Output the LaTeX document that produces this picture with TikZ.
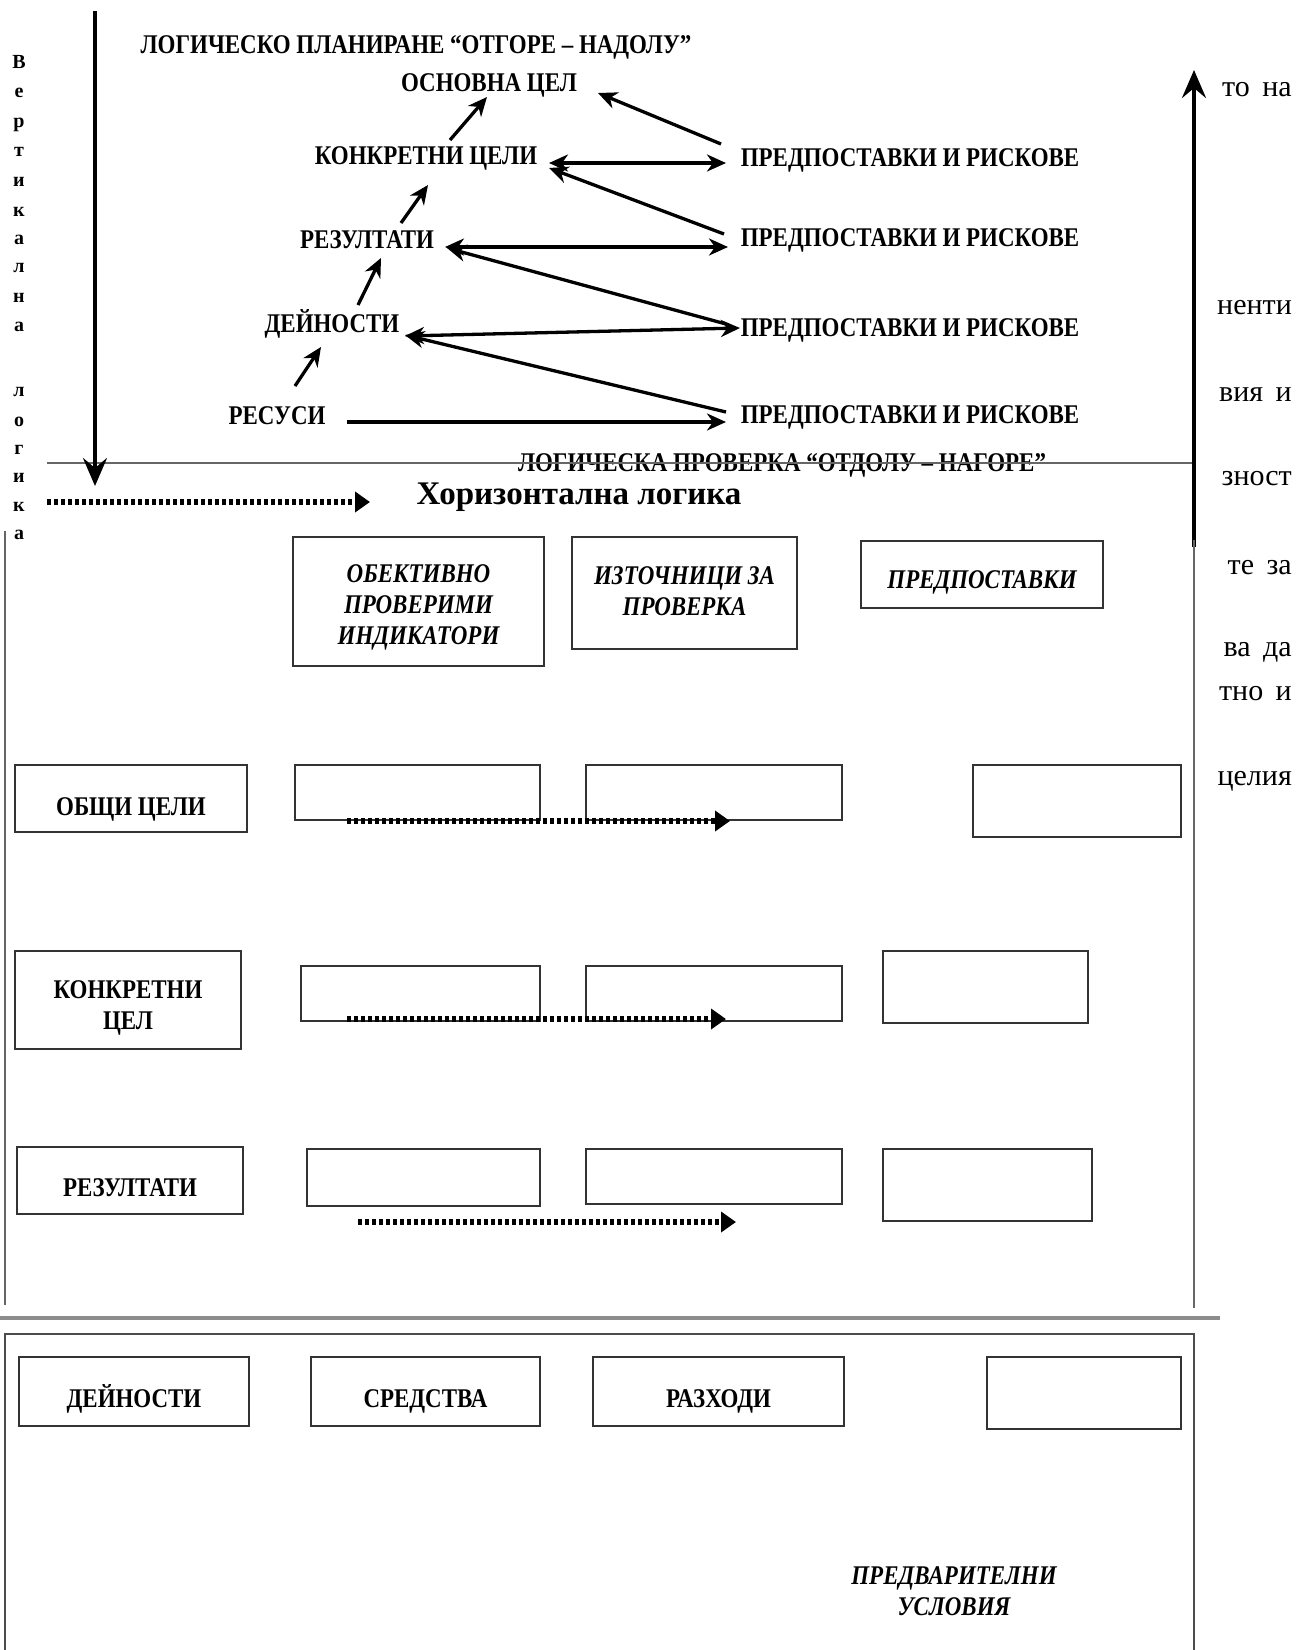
\documentclass[tikz,border=0pt]{standalone}
\usepackage{fontspec}
\setmainfont{Liberation Serif}
\newfontfamily\cond[FakeStretch=0.85]{Liberation Serif}
\usetikzlibrary{arrows.meta}
\begin{document}
\begin{tikzpicture}[x=1pt,y=-1pt,
  lbl/.style={font=\cond\bfseries\fontsize{27}{30}\selectfont, inner sep=0pt},
  ilbl/.style={font=\cond\bfseries\itshape\fontsize{27}{31}\selectfont, inner sep=0pt, align=center},
  blbl/.style={font=\cond\bfseries\fontsize{27}{31}\selectfont, align=center},
  slbl/.style={font=\cond\bfseries\fontsize{27}{31}\selectfont, inner sep=0pt, text height=18pt, text depth=0pt},
  vlet/.style={font=\bfseries\fontsize{20}{20}\selectfont, inner sep=0pt},
  frag/.style={font=\fontsize{30}{30}\selectfont, inner sep=0pt, anchor=east},
  cell/.style={draw=black!80, line width=1.8pt, inner sep=0pt, align=center},
  arr/.style={line width=3.3pt, -{Stealth[length=19pt,width=17pt,inset=6pt]}},
  darr/.style={line width=3.3pt, {Stealth[length=19pt,width=17pt,inset=6pt]}-{Stealth[length=19pt,width=17pt,inset=6pt]}},
  bigarr/.style={line width=4pt, -{Stealth[length=28pt,width=24pt,inset=10pt]}},
  dotarr/.style={line width=6pt, dash pattern=on 3.5pt off 3.5pt, -{Triangle[length=15pt,width=20pt]}},
  gline/.style={draw=black!60, line width=1.8pt}]
\useasboundingbox (0,0) rectangle (1311,1650);

% ---------- vertical logic letters ----------
\foreach \ch/\yy [count=\i] in {В/62,е/93,р/125,т/152,и/182,к/212,а/240,л/268,н/298,а/327,л/392,о/422,г/450,и/478,к/507,а/535}
  \node[vlet] (v\i) at (19,\yy) {\ch};

% ---------- top section labels ----------
\node[lbl] (title) at (416,47) {ЛОГИЧЕСКО ПЛАНИРАНЕ “ОТГОРЕ – НАДОЛУ”};
\node[lbl] (osn) at (489,85) {ОСНОВНА ЦЕЛ};
\node[lbl] (kc) at (426,158) {КОНКРЕТНИ ЦЕЛИ};
\node[lbl] (rez) at (367,240) {РЕЗУЛТАТИ};
\node[lbl] (dei) at (332,324) {ДЕЙНОСТИ};
\node[lbl] (res) at (277,416) {РЕСУСИ};
\node[lbl] (p1) at (910,160) {ПРЕДПОСТАВКИ И РИСКОВЕ};
\node[lbl] (p2) at (910,240) {ПРЕДПОСТАВКИ И РИСКОВЕ};
\node[lbl] (p3) at (910,330) {ПРЕДПОСТАВКИ И РИСКОВЕ};
\node[lbl] (p4) at (910,417) {ПРЕДПОСТАВКИ И РИСКОВЕ};

% arrow end points
\coordinate (kcU) at (450,140); \coordinate (osnD) at (487,97);
\coordinate (rezU) at (401,223); \coordinate (kcD) at (428,185);
\coordinate (deiU) at (358,305); \coordinate (rezD) at (381,258);
\coordinate (resU) at (295,386); \coordinate (deiD) at (321,347);
\coordinate (p1L) at (721,144); \coordinate (osnR) at (598,93);
\coordinate (kcR) at (549,163); \coordinate (p1W) at (726,163);
\coordinate (p2L) at (724,234); \coordinate (kcR2) at (549,168);
\coordinate (rezR) at (445,247); \coordinate (p2W) at (728,247);
\coordinate (p3L) at (726,324); \coordinate (rezR2) at (447,248);
\coordinate (deiR) at (405,336); \coordinate (p3W) at (740,328);
\coordinate (p4L) at (726,412); \coordinate (deiR2) at (405,335);
\coordinate (resR) at (347,422); \coordinate (p4W) at (726,422);

\draw[arr] (kcU) -- (osnD);
\draw[arr] (rezU) -- (kcD);
\draw[arr] (deiU) -- (rezD);
\draw[arr] (resU) -- (deiD);
\draw[arr] (p1L) -- (osnR);
\draw[darr] (kcR) -- (p1W);
\draw[arr] (p2L) -- (kcR2);
\draw[darr] (rezR) -- (p2W);
\draw[arr] (p3L) -- (rezR2);
\draw[darr] (deiR) -- (p3W);
\draw[arr] (p4L) -- (deiR2);
\draw[arr] (resR) -- (p4W);

% ---------- big vertical arrows and dividing line ----------
\node[lbl] (check) at (782,465) {ЛОГИЧЕСКА ПРОВЕРКА “ОТДОЛУ – НАГОРЕ”};
\coordinate (hL) at (47,463); \coordinate (hR) at (1194,463);
\draw[gline] (hL) -- (hR);
\coordinate (vaTop) at (95,11); \coordinate (vaBot) at (95,486);
\draw[bigarr] (vaTop) -- (vaBot);
\coordinate (raBot) at (1194,547); \coordinate (raTop) at (1194,70);
\draw[bigarr] (raBot) -- (raTop);

% horizontal logic
\coordinate (hdS) at (47,502); \coordinate (hdE) at (370,502);
\draw[dotarr] (hdS) -- (hdE);
\node[font=\bfseries\fontsize{33}{36}\selectfont, inner sep=0pt] (hor) at (579,497) {Хоризонтална логика};

% ---------- right text fragments ----------
\node[frag] (f1) at (1292,90) {то\,  на};
\node[frag] (f2) at (1292,308) {ненти};
\node[frag] (f3) at (1292,395) {вия\, и};
\node[frag] (f4) at (1292,479) {зност};
\node[frag] (f5) at (1292,568) {те\,  за};
\node[frag] (f6) at (1292,652) {ва\, да};
\node[frag] (f7) at (1292,694) {тно\, и};
\node[frag] (f8) at (1292,781) {целия};

% ---------- frame lines ----------
\coordinate (lvT) at (5,531); \coordinate (lvB) at (5,1305);
\draw[gline, line width=1.5pt] (lvT) -- (lvB);
\coordinate (rvT) at (1194,540); \coordinate (rvB) at (1194,1308);
\draw[gline, line width=1.5pt] (rvT) -- (rvB);
\coordinate (dlL) at (0,1318); \coordinate (dlR) at (1220,1318);
\draw[draw=black!45, line width=3.5pt] (dlL) -- (dlR);
\coordinate (brBL) at (5,1650); \coordinate (brTL) at (5,1334);
\coordinate (brTR) at (1194,1334); \coordinate (brBR) at (1194,1650);
\draw[draw=black!70, line width=1.8pt] (brBL) -- (brTL) -- (brTR) -- (brBR);

% ---------- header boxes ----------
\node[cell, minimum width=251pt, minimum height=129pt] (h1) at (418.5,601.5) {};
\node[ilbl] (h1t) at (418.5,607) {ОБЕКТИВНО\\ПРОВЕРИМИ\\ИНДИКАТОРИ};
\node[cell, minimum width=225pt, minimum height=112pt] (h2) at (684.5,593) {};
\node[ilbl] (h2t) at (684.5,591) {ИЗТОЧНИЦИ ЗА\\ПРОВЕРКА};
\node[cell, minimum width=242pt, minimum height=67pt] (h3) at (982,574.5) {};
\node[ilbl, text height=18pt, text depth=0pt] (h3t) at (982,579) {ПРЕДПОСТАВКИ};

% ---------- row 1 ----------
\node[cell, minimum width=232pt, minimum height=67pt] (r1a) at (131,798.5) {};
\node[slbl] (r1at) at (131,806) {ОБЩИ ЦЕЛИ};
\node[cell, minimum width=245pt, minimum height=55pt] (r1b) at (417.5,792.5) {};
\node[cell, minimum width=256pt, minimum height=55pt] (r1c) at (714,792.5) {};
\node[cell, minimum width=208pt, minimum height=72pt] (r1d) at (1077,801) {};
\coordinate (d1s) at (347,821); \coordinate (d1e) at (730,821);
\draw[dotarr] (d1s) -- (d1e);

% ---------- row 2 ----------
\node[cell, minimum width=226pt, minimum height=98pt] (r2a) at (128,1000) {};
\node[blbl] (r2at) at (128,1008) {КОНКРЕТНИ\\ЦЕЛ};
\node[cell, minimum width=239pt, minimum height=55pt] (r2b) at (420.5,993.5) {};
\node[cell, minimum width=256pt, minimum height=55pt] (r2c) at (714,993.5) {};
\node[cell, minimum width=205pt, minimum height=72pt] (r2d) at (985.5,987) {};
\coordinate (d2s) at (347,1019); \coordinate (d2e) at (726,1019);
\draw[dotarr] (d2s) -- (d2e);

% ---------- row 3 ----------
\node[cell, minimum width=226pt, minimum height=67pt] (r3a) at (130,1180.5) {};
\node[slbl] (r3at) at (130,1187) {РЕЗУЛТАТИ};
\node[cell, minimum width=233pt, minimum height=57pt] (r3b) at (423.5,1177.5) {};
\node[cell, minimum width=256pt, minimum height=55pt] (r3c) at (714,1176.5) {};
\node[cell, minimum width=209pt, minimum height=72pt] (r3d) at (987.5,1185) {};
\coordinate (d3s) at (358,1222); \coordinate (d3e) at (736,1222);
\draw[dotarr] (d3s) -- (d3e);

% ---------- bottom row ----------
\node[cell, minimum width=230pt, minimum height=69pt] (b1) at (134,1391.5) {};
\node[slbl] (b1t) at (134,1398) {ДЕЙНОСТИ};
\node[cell, minimum width=229pt, minimum height=69pt] (b2) at (425.5,1391.5) {};
\node[slbl] (b2t) at (425.5,1398) {СРЕДСТВА};
\node[cell, minimum width=251pt, minimum height=69pt] (b3) at (718.5,1391.5) {};
\node[slbl] (b3t) at (718.5,1398) {РАЗХОДИ};
\node[cell, minimum width=194pt, minimum height=72pt] (b4) at (1084,1393) {};
\node[ilbl] (pre) at (954,1591) {ПРЕДВАРИТЕЛНИ\\УСЛОВИЯ};
\end{tikzpicture}
\end{document}
